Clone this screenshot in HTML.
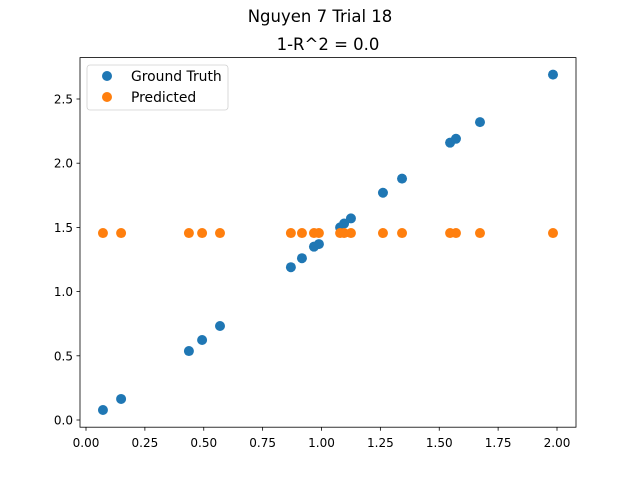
<!DOCTYPE html>
<html><head><meta charset="utf-8"><style>
body{margin:0;background:#fff;}
svg text{font-family:"DejaVu Sans","Liberation Sans",sans-serif;}
</style></head><body>
<svg id="chart" width="640" height="480" xmlns="http://www.w3.org/2000/svg">
<rect width="640" height="480" fill="#fff"/>
<text x="320" y="22" font-size="16.5" text-anchor="middle">Nguyen 7 Trial 18</text>
<text x="328" y="50" font-size="16.5" text-anchor="middle">1-R^2 = 0.0</text>
<g id="ticks"></g>
<g id="marks"></g>
<rect x="80" y="57.6" width="496" height="369.6" fill="none" stroke="#000" stroke-width="0.8"/>
<g>
<rect x="87" y="65" width="141" height="45" rx="3" fill="#fff" stroke="#ccc" stroke-width="0.8" opacity="0.9"/>
<circle cx="107" cy="76" r="5" fill="#1f77b4"/>
<text x="131" y="81" font-size="13.9">Ground Truth</text>
<circle cx="107" cy="97" r="5" fill="#ff7f0e"/>
<text x="131" y="102" font-size="13.9">Predicted</text>
</g>
</svg>
<script>
const xValues=[0.072,0.149,0.437,0.493,0.569,0.870,0.917,0.968,0.989,1.079,1.096,1.125,1.261,1.342,1.546,1.571,1.673,1.983];
const groundTruth=[0.078,0.164,0.537,0.623,0.732,1.19,1.26,1.35,1.37,1.50,1.53,1.57,1.77,1.88,2.16,2.19,2.32,2.69];
const predicted=[1.456,1.456,1.456,1.456,1.456,1.456,1.456,1.456,1.456,1.456,1.456,1.456,1.456,1.456,1.456,1.456,1.456,1.456];
const xTicks=["0.00","0.25","0.50","0.75","1.00","1.25","1.50","1.75","2.00"];
const yTicks=["0.0","0.5","1.0","1.5","2.0","2.5"];
const NS="http://www.w3.org/2000/svg";
function sx(v){return 86+v*235.5;}
function sy(v){return 420-v*128.4;}
const tg=document.getElementById('ticks'),mg=document.getElementById('marks');
function mk(t,a,p){const e=document.createElementNS(NS,t);for(const k in a)e.setAttribute(k,a[k]);p.appendChild(e);return e;}
xTicks.forEach(t=>{const x=sx(parseFloat(t));
const l=mk('line',{x1:x,x2:x,y1:427.2,y2:430.7,stroke:'#000','stroke-width':0.8},tg);


const tx=mk('text',{x:x,y:447,'font-size':12,'text-anchor':'middle'},tg);tx.textContent=t;

});
yTicks.forEach(t=>{const y=sy(parseFloat(t));
const l=mk('line',{x1:76.5,x2:80,y1:y,y2:y,stroke:'#000','stroke-width':0.8},tg);


const tx=mk('text',{x:73,y:y+4.5,'font-size':12,'text-anchor':'end'},tg);tx.textContent=t;

});
xValues.forEach((x,i)=>{const c=mk('circle',{cx:sx(x),cy:sy(groundTruth[i]),r:5,fill:'#1f77b4'},mg);

});
xValues.forEach((x,i)=>{const c=mk('circle',{cx:sx(x),cy:sy(predicted[i]),r:5,fill:'#ff7f0e'},mg);

});
</script>
</body></html>
